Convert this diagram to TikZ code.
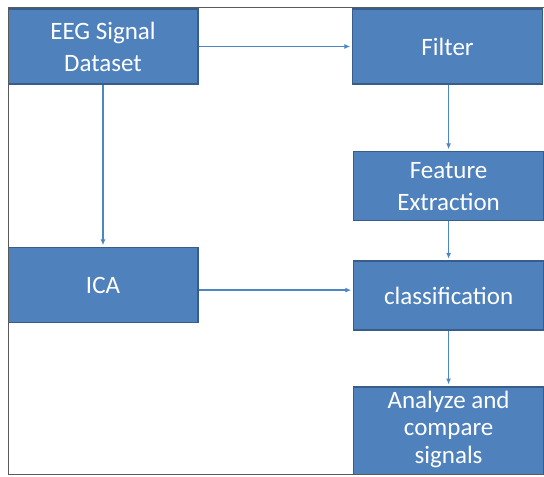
\documentclass[tikz,border=0pt]{standalone}
\usepackage{fontspec}
\newfontfamily\calfont{Carlito}
\usepackage{tikz}
\usetikzlibrary{arrows.meta, positioning}
\definecolor{boxblue}{RGB}{79,129,189}
\definecolor{boxedge}{RGB}{56,93,138}
\definecolor{lineblue}{RGB}{78,134,196}
\definecolor{framegray}{RGB}{90,90,90}
\tikzset{
x=1pt, y=1pt, % one unit is one pixel of the layout
>={Latex[length=6pt, width=5pt]}, % small filled arrow heads
every edge/.style={draw=lineblue, line width=1.5pt, ->, shorten >=1.5pt}, % the blue connectors
block/.style={draw=boxedge, line width=1.6pt, fill=boxblue, text=white, minimum width=190pt, minimum height=75pt, inner sep=0pt, align=center, font=\calfont\fontsize{25}{32}\selectfont}, % the blue boxes
}

\begin{document}
\begin{tikzpicture}
      \useasboundingbox (0,0) rectangle (544,-477);
      \begin{scope}
      \clip (8,-7) rectangle (560,-474.5);
      \node[block] (eeg) at (103,-46.5) {EEG Signal\\Dataset};
      \node[block, right=153pt of eeg] (filter) {Filter};
      \node[block, below=66pt of filter, minimum height=69pt, xshift=1pt] (feature) {Feature\\Extraction};
      \node[block, below=162pt of eeg] (ica) {ICA};
      \node[block, below=39pt of feature, minimum height=69pt] (cls) {classification};
      \node[block, below=55pt of cls, minimum height=100pt, text depth=19pt, font=\calfont\fontsize{25}{27.5}\selectfont] (analyze) {Analyze and\\compare\\signals};

      \draw (eeg) edge (filter)
      (eeg) edge (ica)
      (feature.north |- filter.south) edge (feature.north)
      (feature) edge (cls)
      (cls) edge (analyze.north)
      ([yshift=-5pt]ica.east) edge ([yshift=-5pt]ica.east -| cls.west);
      \end{scope}
      % frame round the figure
      \draw[framegray, line width=1pt] (560,-7) -- (8,-7) -- (8,-474.5) -- (560,-474.5);
    \end{tikzpicture}
\end{document}
